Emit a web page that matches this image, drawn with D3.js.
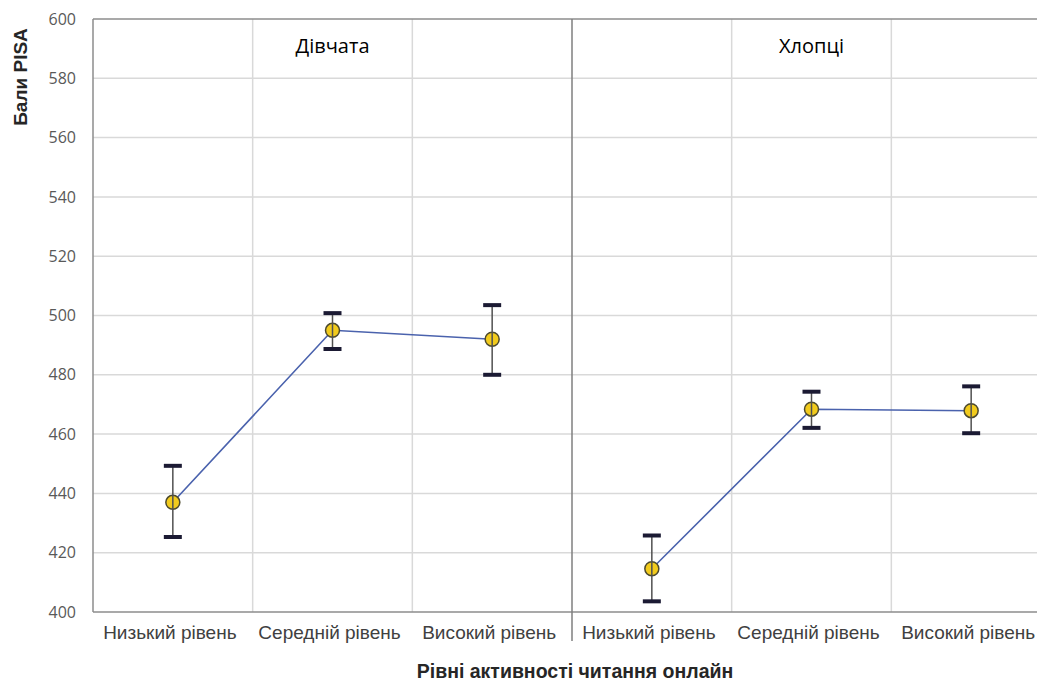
<!DOCTYPE html>
<html>
<head>
<meta charset="utf-8">
<script src="https://cdn.jsdelivr.net/npm/d3@7"></script>
<style>
  html, body { margin: 0; padding: 0; background: #fff; }
  svg { display: block; }
</style>
</head>
<body>
<svg id="chart" width="1037" height="682"></svg>
<script>
// PISA reading scores by level of online reading activity, split by gender
const groups = ["Дівчата", "Хлопці"];
const levels = ["Низький рівень", "Середній рівень", "Високий рівень"];
const girlsMean = [437, 495, 492];
const girlsLow  = [425.3, 488.7, 480];
const girlsHigh = [449.3, 500.8, 503.5];
const boysMean  = [414.6, 468.4, 467.9];
const boysLow   = [403.6, 462.1, 460.3];
const boysHigh  = [425.8, 474.3, 476.1];
const yTicks = [400, 420, 440, 460, 480, 500, 520, 540, 560, 580, 600];

const series = [
  { group: groups[0], mean: girlsMean, lo: girlsLow, hi: girlsHigh },
  { group: groups[1], mean: boysMean,  lo: boysLow,  hi: boysHigh }
];

const svg = d3.select("#chart");
const plotLeft = 93, plotTop = 19, plotBottom = 612, panelW = 479;

const y = d3.scaleLinear().domain([400, 600]).range([plotBottom, plotTop]);

const panel = d3.scaleBand().domain(groups).range([plotLeft, plotLeft + 2 * panelW]);
const x = d3.scaleBand().domain(levels).range([0, panelW]);

const grid = svg.append("g");
// horizontal gridlines
grid.selectAll("line.h").data(yTicks.slice(1, -1)).join("line")
  .attr("x1", plotLeft).attr("x2", 1037)
  .attr("y1", d => y(d)).attr("y2", d => y(d))
  .attr("stroke", "#d9d9d9").attr("stroke-width", 1.5);

// vertical gridlines between categories
const vLines = [];
groups.forEach(g => levels.forEach((l, i) => { if (i > 0) vLines.push(panel(g) + x(l)); }));
grid.selectAll("line.v").data(vLines).join("line")
  .attr("x1", d => d).attr("x2", d => d)
  .attr("y1", plotTop).attr("y2", plotBottom)
  .attr("stroke", "#d9d9d9").attr("stroke-width", 1.5);

// frame: top, bottom, left
svg.append("line").attr("x1", plotLeft).attr("x2", 1037).attr("y1", y(600)).attr("y2", y(600))
  .attr("stroke", "#8c8c8c").attr("stroke-width", 1.5);
svg.append("line").attr("x1", plotLeft).attr("x2", 1037).attr("y1", y(400)).attr("y2", y(400))
  .attr("stroke", "#8c8c8c").attr("stroke-width", 1.5);
svg.append("line").attr("x1", plotLeft).attr("x2", plotLeft).attr("y1", plotTop).attr("y2", plotBottom)
  .attr("stroke", "#8c8c8c").attr("stroke-width", 1.5);
// panel divider
svg.append("line").attr("x1", panel(groups[1])).attr("x2", panel(groups[1]))
  .attr("y1", plotTop).attr("y2", 641)
  .attr("stroke", "#7f7f7f").attr("stroke-width", 1.5);

// y axis
const yAxis = svg.append("g").attr("transform", `translate(${plotLeft},0)`)
  .call(d3.axisLeft(y).tickValues(yTicks).tickSize(0).tickPadding(17));
yAxis.select(".domain").remove();
yAxis.selectAll("text")
  .attr("fill", "#595959").style("font-family", "'Open Sans', sans-serif").style("font-size", "16px");

// x axis per panel
series.forEach(s => {
  const gx = svg.append("g").attr("transform", `translate(${panel(s.group)},${plotBottom})`)
    .call(d3.axisBottom(x).tickSize(0).tickPadding(14));
  gx.select(".domain").remove();
  gx.selectAll("text")
    .attr("dx", -3)
    .attr("fill", "#404040").style("font-family", "'Liberation Sans', Arial, sans-serif").style("font-size", "19px");
});

// panel titles
svg.selectAll("text.panel").data(groups).join("text")
  .attr("x", g => panel(g) + x(levels[1]) + x.bandwidth() / 2)
  .attr("y", 53)
  .attr("text-anchor", "middle")
  .attr("fill", "#000")
  .style("font-family", "'Open Sans', sans-serif").style("font-size", "20px")
  .text(g => g);

// axis titles
svg.append("text")
  .attr("x", panel(groups[1]) + 3).attr("y", 678)
  .attr("text-anchor", "middle").attr("fill", "#262626")
  .style("font-family", "'Liberation Sans', Arial, sans-serif").style("font-size", "19.5px").style("font-weight", "bold")
  .text("Рівні активності читання онлайн");
svg.append("text")
  .attr("transform", "translate(27,77) rotate(-90)")
  .attr("text-anchor", "middle").attr("fill", "#262626")
  .style("font-family", "'Liberation Sans', Arial, sans-serif").style("font-size", "19px").style("font-weight", "bold")
  .text("Бали PISA");

// series lines, error bars and markers
const line = d3.line().x(d => d.x).y(d => y(d.v));
series.forEach(s => {
  const pts = levels.map((l, i) => ({
    x: panel(s.group) + x(l) + x.bandwidth() / 2,
    v: s.mean[i], lo: s.lo[i], hi: s.hi[i]
  }));
  const g = svg.append("g");
  g.append("path").datum(pts).attr("d", line)
    .attr("fill", "none").attr("stroke", "#4a62ad").attr("stroke-width", 1.6);
  g.selectAll("circle").data(pts).join("circle")
    .attr("cx", d => d.x).attr("cy", d => y(d.v)).attr("r", 7)
    .attr("fill", "#f2cb1d").attr("stroke", "#4d4a2e").attr("stroke-width", 1.5);
  g.selectAll("line.err").data(pts).join("line")
    .attr("x1", d => d.x).attr("x2", d => d.x)
    .attr("y1", d => y(d.lo)).attr("y2", d => y(d.hi))
    .attr("stroke", "#505050").attr("stroke-width", 1.5);
  const caps = pts.flatMap(d => [{ x: d.x, v: d.lo }, { x: d.x, v: d.hi }]);
  g.selectAll("line.cap").data(caps).join("line")
    .attr("x1", d => d.x - 9).attr("x2", d => d.x + 9)
    .attr("y1", d => y(d.v)).attr("y2", d => y(d.v))
    .attr("stroke", "#1b1a33").attr("stroke-width", 4);
});
</script>
</body>
</html>
